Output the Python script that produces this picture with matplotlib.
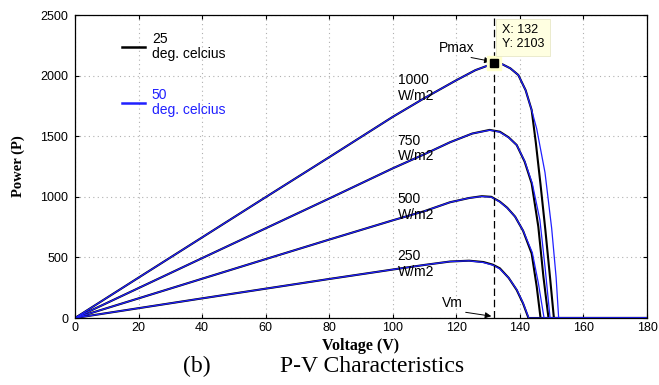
import matplotlib
matplotlib.use("Agg")
import matplotlib.pyplot as plt
from matplotlib.lines import Line2D

# ---- data ----
v1000_k = [0, 20, 40, 60, 80, 100, 110, 120, 126, 132, 134.3, 137, 139.5, 141.8, 143.7, 145.0, 146.5, 148.0, 149.5, 150.7, 180]
p1000_k = [0, 333, 665, 997, 1327, 1660, 1815, 1962, 2045, 2103, 2096, 2060, 2005, 1880, 1716, 1450, 1100, 730, 330, 0, 0]
v1000_b = [0, 20, 40, 60, 80, 100, 110, 120, 126, 132, 134.3, 137, 139.5, 141.8, 143.7, 145.3, 147.9, 150.0, 151.4, 152.2, 180]
p1000_b = [0, 333, 665, 997, 1327, 1660, 1815, 1962, 2045, 2103, 2096, 2060, 2005, 1880, 1716, 1560, 1200, 740, 335, 0, 0]

v750_k = [0, 20, 40, 60, 80, 100, 110, 118, 125, 130.5, 133.7, 136.5, 139.0, 141.5, 143.7, 145.8, 147.4, 149.0, 180]
p750_k = [0, 247, 494, 740, 986, 1235, 1352, 1450, 1522, 1552, 1537, 1490, 1427, 1290, 1111, 753, 341, 0, 0]
v750_b = [0, 20, 40, 60, 80, 100, 110, 118, 125, 130.5, 133.7, 136.5, 139.0, 141.5, 143.9, 146.3, 147.9, 149.5, 180]
p750_b = [0, 247, 494, 740, 986, 1235, 1352, 1450, 1522, 1550, 1534, 1488, 1427, 1295, 1111, 808, 423, 0, 0]

v500_k = [0, 20, 40, 60, 80, 100, 110, 118, 124, 128, 131, 133.7, 136, 138.5, 141, 143.7, 145.3, 146.5, 180]
p500_k = [0, 162, 324, 486, 647, 806, 882, 955, 990, 1005, 1000, 960, 910, 836, 720, 533, 258, 0, 0]
v500_b = [0, 20, 40, 60, 80, 100, 110, 118, 124, 128, 131, 133.7, 136, 138.5, 141, 143.9, 145.8, 147.6, 180]
p500_b = [0, 162, 324, 486, 647, 806, 882, 955, 990, 1003, 997, 958, 908, 836, 722, 540, 290, 0, 0]

v250_k = [0, 20, 40, 60, 80, 100, 110, 118, 124, 128.5, 131.5, 133.7, 136.5, 139, 141, 142.7, 180]
p250_k = [0, 81, 162, 242, 322, 400, 438, 466, 473, 462, 440, 410, 330, 231, 120, 0, 0]
v250_b = [0, 20, 40, 60, 80, 100, 110, 118, 124, 128.5, 131.5, 133.7, 136.5, 139, 141, 142.8, 180]
p250_b = [0, 81, 162, 242, 322, 400, 438, 466, 472, 458, 436, 405, 330, 235, 125, 0, 0]

curves_k = [(v1000_k, p1000_k), (v750_k, p750_k), (v500_k, p500_k), (v250_k, p250_k)]
curves_b = [(v1000_b, p1000_b), (v750_b, p750_b), (v500_b, p500_b), (v250_b, p250_b)]

irr_labels = ["1000\nW/m2", "750\nW/m2", "500\nW/m2", "250\nW/m2"]
irr_label_pos = [(101.5, 2020), (101.5, 1520), (101.5, 1040), (101.5, 568)]

vmax_pt, pmax_pt = 132, 2103
legend_labels = ["25\ndeg. celcius", "50\ndeg. celcius"]
xticks = list(range(0, 181, 20))
yticks = list(range(0, 2501, 500))

BLUE = "#2020ff"

# ---- figure ----
fig = plt.figure(figsize=(6.59, 3.85), dpi=100)
ax = fig.add_axes([0.1138, 0.174, 0.8680, 0.787])

for v, p in curves_k:
    ax.plot(v, p, color="black", lw=1.5, solid_joinstyle="round")
for v, p in curves_b:
    ax.plot(v, p, color=BLUE, lw=0.9, solid_joinstyle="round")

ax.set_xlim(0, 180)
ax.set_ylim(0, 2500)
ax.set_xticks(xticks)
ax.set_yticks(yticks)
ax.grid(True, color="#b0b0b0", linestyle=(0, (1, 3)), linewidth=0.8)
ax.tick_params(direction="in", top=True, right=True, length=3, labelsize=9)
ax.tick_params(axis="y", pad=5)
ax.tick_params(axis="x", pad=3)
for lab in ax.get_xticklabels() + ax.get_yticklabels():
    lab.set_fontfamily("Liberation Sans")
for s in ax.spines.values():
    s.set_linewidth(0.9)

ax.set_xlabel("Voltage (V)", fontfamily="Liberation Serif", fontweight="bold",
              fontsize=11.5, labelpad=3)
ax.set_ylabel("Power (P)", fontfamily="Liberation Serif", fontweight="bold",
              fontsize=10.5, labelpad=11)

# vertical dashed line at Pmax voltage
ax.axvline(vmax_pt, color="black", lw=0.9, dashes=(6, 3))

# data tip marker
ax.plot([vmax_pt], [pmax_pt], marker="s", markersize=10, color="#ffffcc",
        markeredgecolor="#ffffcc", zorder=5)
ax.plot([vmax_pt], [pmax_pt], marker="s", markersize=6, color="black", zorder=8)
ax.text(vmax_pt + 2.4, 2318, "X: 132\nY: 2103", fontsize=9,
        fontfamily="Liberation Sans", va="center", ha="left", linespacing=1.2,
        bbox=dict(boxstyle="square,pad=0.45", fc="#ffffe1", ec="#e8e8c8", lw=0.6),
        zorder=7)

# annotations
ax.annotate("Pmax", xy=(vmax_pt - 1.2, pmax_pt + 15), xytext=(114.5, 2230),
            fontsize=10, fontfamily="Liberation Sans", ha="left", va="center",
            arrowprops=dict(arrowstyle="-|>", color="black", lw=0.7,
                            mutation_scale=9, shrinkA=0, shrinkB=0,
                            relpos=(0.5, 0.0)))
ax.annotate("Vm", xy=(131, 15), xytext=(115.5, 120),
            fontsize=10, fontfamily="Liberation Sans", ha="left", va="center",
            arrowprops=dict(arrowstyle="-|>", color="black", lw=0.7,
                            mutation_scale=9, shrinkA=0, shrinkB=0,
                            relpos=(0.55, 0.0)))

for txt, (x, y) in zip(irr_labels, irr_label_pos):
    ax.text(x, y, txt, fontsize=10, fontfamily="Liberation Sans", va="top",
            ha="left", linespacing=1.15)

# legend
handles = [Line2D([], [], color="black", lw=1.8),
           Line2D([], [], color=BLUE, lw=1.8)]
leg = ax.legend(handles, legend_labels, loc="upper left",
                bbox_to_anchor=(0.082, 0.945), frameon=False, borderpad=0,
                borderaxespad=0, handlelength=1.65, handletextpad=0.5,
                labelspacing=1.95, labelcolor="linecolor",
                prop=dict(family="Liberation Sans", size=10))
for t in leg.get_texts():
    t.set_linespacing(1.1)

fig.text(0.278, 0.048, "(b)", fontsize=17, fontfamily="Liberation Serif",
         ha="left", va="center")
fig.text(0.425, 0.048, "P-V Characteristics", fontsize=17,
         fontfamily="Liberation Serif", ha="left", va="center")

fig.savefig("out.png", dpi=100)
